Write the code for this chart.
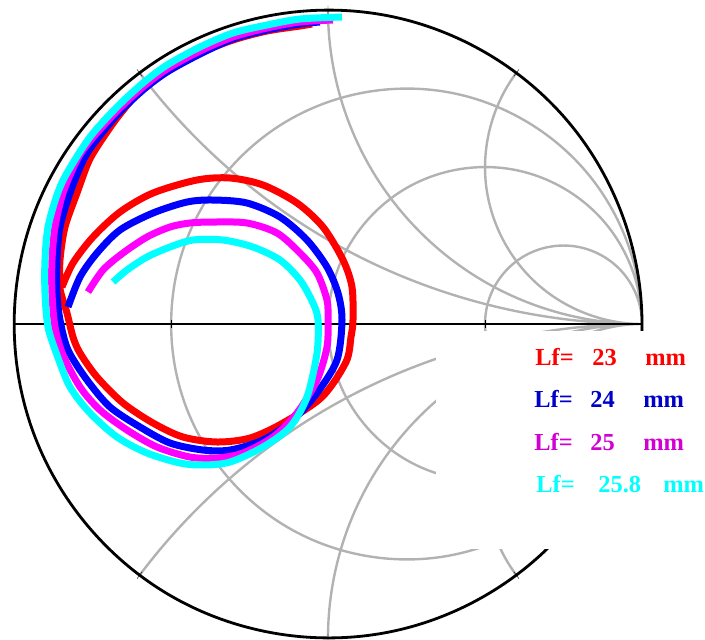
\documentclass[border=0pt]{standalone}
\usepackage{pgfplots}
\pgfplotsset{compat=1.18}
\usepgfplotslibrary{smithchart}
\usepackage{fontspec}
\setmainfont{Liberation Serif}
\definecolor{gridgray}{RGB}{178,178,178}
\definecolor{cR}{RGB}{255,0,0}
\definecolor{cB}{RGB}{0,0,255}
\definecolor{cM}{RGB}{255,0,255}
\definecolor{cC}{RGB}{0,255,255}
\definecolor{tB}{RGB}{0,0,200}
\definecolor{tM}{RGB}{210,0,210}
\begin{document}
\begin{tikzpicture}
\begin{smithchart}[
  name=ax,
  scale only axis, width=314pt,
  clip=false,
  xtick={0.3333333,1,3}, ytick={-2,-1,-0.5,0.5,1,2},
  xticklabels={}, yticklabels={},
  grid style={color=gridgray, line width=1.2pt},
  axis line style={black, line width=1.4pt},
  legend image code/.code={},
  legend style={at={(axis description cs:0.672,0.4889)}, anchor=north west,
    draw=none, fill=white, inner sep=0pt, row sep=0pt,
    nodes={inner sep=0pt, text height=17pt, text depth=4.2pt},
    font=\fontsize{12.2}{14}\selectfont\bfseries},
  legend cell align=left,
]
\addplot[is smithchart cs, black, line width=1.3pt, forget plot] coordinates {(-1,0) (1,0)};
\addplot[is smithchart cs, cR, line width=3.5pt, smooth, tension=0.5] coordinates {
(-0.0510,0.9554) (-0.0892,0.9490) (-0.1943,0.9331) (-0.3025,0.9045) (-0.4076,0.8631) (-0.5127,0.8057) (-0.5987,0.7420) (-0.6720,0.6561) (-0.7357,0.5637) (-0.7643,0.5127) (-0.7994,0.4172) (-0.8376,0.3089) (-0.8535,0.2038) (-0.8535,0.1178) (-0.8471,0.0860) (-0.8312,0.0350) (-0.8121,-0.0414) (-0.7898,-0.0924) (-0.7357,-0.1688) (-0.6529,-0.2516) (-0.5573,-0.3153) (-0.4618,-0.3599) (-0.3535,-0.3758) (-0.2484,-0.3631) (-0.1433,-0.3153) (-0.0191,-0.2325) (0.0573,-0.1210) (0.0732,-0.0414) (0.0796,0.0127) (0.0764,0.1178) (0.0478,0.2038) (-0.0159,0.3089) (-0.0987,0.3854) (-0.2070,0.4427) (-0.3121,0.4650) (-0.4172,0.4586) (-0.5573,0.4172) (-0.6624,0.3567) (-0.7484,0.2771) (-0.8121,0.1943) (-0.8471,0.1178)
};
\addlegendentry{\hspace*{49.5pt}\textcolor{cR}{\makebox[28.5pt][l]{Lf=}\makebox[26.5pt][l]{23}mm}\hspace*{30pt}}
\addplot[is smithchart cs, cB, line width=3.5pt, smooth, tension=0.5] coordinates {
(-0.0255,0.9618) (-0.0892,0.9554) (-0.1943,0.9363) (-0.3025,0.9076) (-0.4076,0.8599) (-0.5127,0.8025) (-0.5892,0.7452) (-0.6720,0.6656) (-0.7516,0.5669) (-0.7834,0.5127) (-0.8217,0.4172) (-0.8535,0.3089) (-0.8631,0.2038) (-0.8631,0.0987) (-0.8535,0.0127) (-0.8280,-0.0828) (-0.7675,-0.1783) (-0.6943,-0.2643) (-0.5987,-0.3280) (-0.5032,-0.3790) (-0.3981,-0.4013) (-0.3121,-0.4013) (-0.2070,-0.3694) (-0.1115,-0.3057) (-0.0350,-0.2197) (0.0287,-0.1146) (0.0446,0.0127) (0.0318,0.0987) (-0.0032,0.1815) (-0.0669,0.2675) (-0.1529,0.3408) (-0.2580,0.3854) (-0.3662,0.3949) (-0.4490,0.3885) (-0.5573,0.3535) (-0.6624,0.2994) (-0.7357,0.2261) (-0.7898,0.1497) (-0.8280,0.0541)
};
\addlegendentry{\hspace*{49pt}\textcolor{tB}{\makebox[28pt][l]{Lf=}\makebox[26.5pt][l]{24}mm}}
\addplot[is smithchart cs, cM, line width=3.5pt, smooth, tension=0.5] coordinates {
(0.0159,0.9682) (-0.0892,0.9618) (-0.1943,0.9427) (-0.3025,0.9140) (-0.4076,0.8694) (-0.5127,0.8121) (-0.5892,0.7548) (-0.6720,0.6783) (-0.7580,0.5828) (-0.7994,0.5223) (-0.8439,0.4172) (-0.8694,0.3089) (-0.8790,0.2038) (-0.8790,0.0987) (-0.8694,-0.0096) (-0.8439,-0.0987) (-0.7898,-0.2006) (-0.7261,-0.2739) (-0.6401,-0.3376) (-0.5446,-0.3917) (-0.4395,-0.4236) (-0.3535,-0.4268) (-0.2707,-0.4108) (-0.1752,-0.3599) (-0.0987,-0.2834) (-0.0350,-0.1783) (-0.0032,-0.0732) (0.0000,0.0127) (-0.0032,0.0764) (-0.0350,0.1624) (-0.0892,0.2261) (-0.1624,0.2898) (-0.2580,0.3217) (-0.3662,0.3248) (-0.4395,0.3217) (-0.5032,0.3089) (-0.5764,0.2771) (-0.6529,0.2261) (-0.7166,0.1720) (-0.7643,0.1019)
};
\addlegendentry{\hspace*{49pt}\textcolor{tM}{\makebox[28pt][l]{Lf=}\makebox[26.5pt][l]{25}mm}}
\addplot[is smithchart cs, cC, line width=3.5pt, smooth, tension=0.5] coordinates {
(0.0446,0.9777) (-0.0892,0.9713) (-0.1943,0.9522) (-0.3025,0.9268) (-0.4076,0.8822) (-0.5127,0.8248) (-0.5892,0.7675) (-0.6720,0.6911) (-0.7580,0.5955) (-0.8312,0.4809) (-0.8631,0.4108) (-0.8917,0.3089) (-0.9013,0.2038) (-0.9013,0.0987) (-0.8917,-0.0096) (-0.8631,-0.0987) (-0.8217,-0.2006) (-0.7580,-0.2834) (-0.6720,-0.3599) (-0.5764,-0.4108) (-0.4713,-0.4427) (-0.3981,-0.4490) (-0.3121,-0.4395) (-0.2070,-0.3917) (-0.1210,-0.3280) (-0.0669,-0.2325) (-0.0350,-0.0924) (-0.0318,0.0127) (-0.0478,0.0669) (-0.0892,0.1401) (-0.1529,0.2038) (-0.2389,0.2452) (-0.3344,0.2675) (-0.4299,0.2675) (-0.5032,0.2452) (-0.5764,0.2134) (-0.6401,0.1720) (-0.6847,0.1338)
};
\addlegendentry{\hspace*{50pt}\textcolor{cC}{\makebox[31pt][l]{Lf=}\makebox[32.5pt][l]{25.8}mm}}
\addlegendimage{legend image code/.code={\path[draw=none,fill=none] (0pt,0pt) -- (0pt,-13.5pt);}}
\addlegendentry{}
\end{smithchart}
\pgfresetboundingbox
\path ([shift={(-164pt,-157.5pt)}]ax.center) rectangle ([shift={(188.5pt,162pt)}]ax.center);
\end{tikzpicture}
\end{document}
